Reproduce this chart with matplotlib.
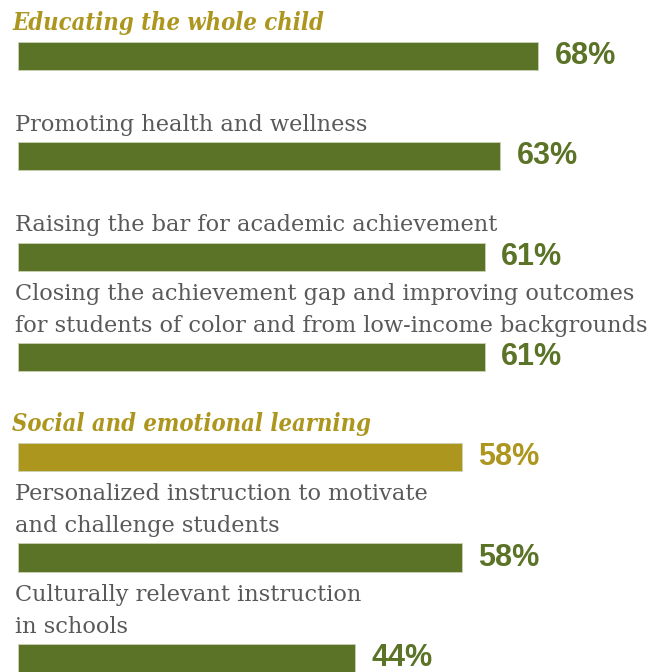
import matplotlib
matplotlib.use("Agg")
import matplotlib.pyplot as plt
import numpy as np

labels = [
    "Educating the whole child",
    "Promoting health and wellness",
    "Raising the bar for academic achievement",
    "Closing the achievement gap and improving outcomes\nfor students of color and from low-income backgrounds",
    "Social and emotional learning",
    "Personalized instruction to motivate\nand challenge students",
    "Culturally relevant instruction\nin schools",
]
values = [68, 63, 61, 61, 58, 58, 44]
highlight_label = [True, False, False, False, True, False, False]
bar_colors = ["#5b7326", "#5b7326", "#5b7326", "#5b7326", "#ad961e", "#5b7326", "#5b7326"]

GREEN = "#5b7326"
GOLD = "#ad961e"
GRAY = "#595959"

fig = plt.figure(figsize=(6.52, 6.72), dpi=100)
ax = fig.add_axes([0, 0, 1, 1])
y = np.arange(len(values))
ax.barh(y, values, height=0.28, color=bar_colors, edgecolor="#c9d3b5", linewidth=0.6)

px_per_unit = 7.65
ax.set_xlim(-18 / px_per_unit, (652 - 18) / px_per_unit)
ax.set_ylim((672 - 56) / 100.3, -56 / 100.3)
ax.axis("off")

for i, (lab, v) in enumerate(zip(labels, values)):
    if highlight_label[i]:
        ax.annotate(lab, xy=(0, i - 0.14), xytext=(-4, 8.5), textcoords="offset points",
                    ha="left", va="baseline", fontsize=17, color=GOLD,
                    family="DejaVu Serif", fontweight="bold", fontstyle="italic",
                    fontstretch="condensed")
    else:
        ax.annotate(lab, xy=(0, i - 0.14), xytext=(-2.5, 8), textcoords="offset points",
                    ha="left", va="baseline", fontsize=16.2, color=GRAY,
                    family="DejaVu Serif", linespacing=1.59)
    ax.annotate(f"{v}%", xy=(v, i), xytext=(12, 0), textcoords="offset points",
                ha="left", va="center", fontsize=22, color=bar_colors[i],
                family="Liberation Sans", fontweight="bold")

fig.savefig("out.png", dpi=100)
